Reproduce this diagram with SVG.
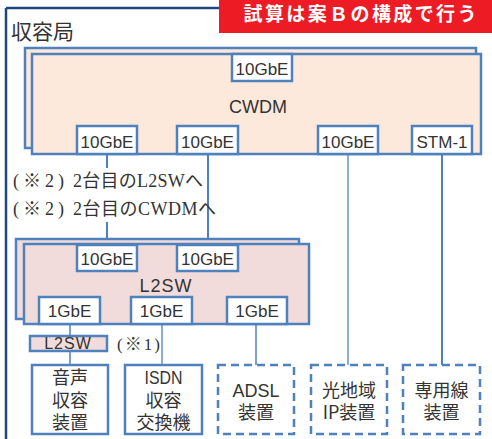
<svg xmlns="http://www.w3.org/2000/svg" width="492" height="439" viewBox="0 0 492 439">
<style>
.frame{fill:none;stroke:#1f497d;stroke-width:2.5}
.cw{fill:#fde9db;stroke:#4f81bd;stroke-width:2.5}
.sw{fill:#f2dcdb;stroke:#4f81bd;stroke-width:2.5}
.port{fill:#ffffff;stroke:#4f81bd;stroke-width:2.5}
.dev{fill:#ffffff;stroke:#4f81bd;stroke-width:2.5}
.dash{fill:#ffffff;stroke:#4f81bd;stroke-width:2.5;stroke-dasharray:8 5}
.ln{stroke:#4f81bd;fill:none}
.t{font-family:"Liberation Sans","Noto Sans CJK JP",sans-serif;fill:#333333;text-anchor:middle}
.j{font-family:"Noto Sans CJK JP",sans-serif;fill:#333333;text-anchor:middle;font-size:18px}
.s{font-family:"Liberation Serif","Noto Sans CJK JP",serif;fill:#333333;font-size:18px}
</style>
<g id="frame">
<line class="frame" x1="6" y1="8" x2="222" y2="8"/>
<line class="frame" x1="6" y1="8" x2="6" y2="439"/>
<text x="11" y="39" style="font-family:'Noto Sans CJK JP',sans-serif;font-size:21px;fill:#333333">収容局</text>
</g>
<g id="banner">
<rect x="219" y="0" width="273" height="33" fill="#ed1c24"/>
<text x="360" y="21" textLength="233" lengthAdjust="spacing" style="font-family:'Noto Sans CJK JP',sans-serif;font-size:19px;font-weight:bold;fill:#ffffff;text-anchor:middle">試算は案Ｂの構成で行う</text>
</g>
<g id="connectors">
<line class="ln" stroke-width="2" x1="107" y1="154" x2="107" y2="168"/>
<line class="ln" stroke-width="2" x1="107" y1="222" x2="107" y2="245"/>
<line class="ln" stroke-width="2" x1="208" y1="154" x2="208" y2="245"/>
<line class="ln" stroke-width="1.3" x1="348" y1="154" x2="348" y2="365"/>
<line class="ln" stroke-width="2" x1="442" y1="154" x2="442" y2="365"/>
<line class="ln" stroke-width="1.5" x1="70" y1="324" x2="70" y2="336"/>
<line class="ln" stroke-width="1.5" x1="70" y1="351" x2="70" y2="365"/>
<line class="ln" stroke-width="1.3" x1="162" y1="324" x2="162" y2="365"/>
<line class="ln" stroke-width="1.5" x1="256" y1="324" x2="256" y2="365"/>
</g>
<g id="cwdm">
<rect class="cw" x="25" y="48" width="451" height="100"/>
<rect class="cw" x="32" y="54" width="449" height="100"/>
<text class="t" x="258" y="113" style="font-size:18px">CWDM</text>
</g>
<g id="cwdm-top-port">
<rect class="port" x="232" y="54" width="60" height="27"/>
<text class="t" x="262" y="75" style="font-size:17px">10GbE</text>
</g>
<g id="cwdm-port1">
<rect class="port" x="77" y="126" width="60" height="28"/>
<text class="t" x="107" y="148" style="font-size:17px">10GbE</text>
</g>
<g id="cwdm-port2">
<rect class="port" x="177" y="126" width="61" height="28"/>
<text class="t" x="207.5" y="148" style="font-size:17px">10GbE</text>
</g>
<g id="cwdm-port3">
<rect class="port" x="318" y="126" width="60" height="28"/>
<text class="t" x="348" y="148" style="font-size:17px">10GbE</text>
</g>
<g id="cwdm-stm1">
<rect class="port" x="412" y="126" width="60" height="28"/>
<text class="t" x="442" y="148" style="font-size:17px">STM-1</text>
</g>
<g id="notes">
<text class="s" y="187"><tspan x="13" textLength="51" lengthAdjust="spacing">(※2)</tspan><tspan x="73" textLength="130" lengthAdjust="spacing">2台目のL2SWへ</tspan></text>
<text class="s" y="215"><tspan x="13" textLength="51" lengthAdjust="spacing">(※2)</tspan><tspan x="73" textLength="143" lengthAdjust="spacing">2台目のCWDMへ</tspan></text>
</g>
<g id="l2sw">
<rect class="sw" x="16" y="239" width="283" height="80"/>
<rect class="sw" x="24" y="244" width="285" height="80"/>
<text class="t" x="166" y="292" style="font-size:18px;letter-spacing:1px">L2SW</text>
</g>
<g id="l2sw-port1">
<rect class="port" x="77" y="245" width="60" height="26"/>
<text class="t" x="107" y="265" style="font-size:17px">10GbE</text>
</g>
<g id="l2sw-port2">
<rect class="port" x="177" y="245" width="61" height="26"/>
<text class="t" x="207.5" y="265" style="font-size:17px">10GbE</text>
</g>
<g id="l2sw-1g1">
<rect class="port" x="39" y="297" width="61" height="27"/>
<text class="t" x="69.5" y="317" style="font-size:17px">1GbE</text>
</g>
<g id="l2sw-1g2">
<rect class="port" x="131" y="297" width="61" height="27"/>
<text class="t" x="161.5" y="317" style="font-size:17px">1GbE</text>
</g>
<g id="l2sw-1g3">
<rect class="port" x="227" y="297" width="60" height="27"/>
<text class="t" x="257" y="317" style="font-size:17px">1GbE</text>
</g>
<g id="small-l2sw">
<rect class="sw" x="30" y="336" width="77" height="15"/>
<text class="t" x="68" y="349" style="font-size:16px;letter-spacing:1px">L2SW</text>
<text class="s" x="117" y="350" style="font-size:17px" textLength="43" lengthAdjust="spacing">(※1)</text>
</g>
<g id="voice">
<rect class="dev" x="32" y="365" width="76" height="69"/>
<text class="j" x="70" y="384">音声</text>
<text class="j" x="70" y="407">収容</text>
<text class="j" x="70" y="429">装置</text>
</g>
<g id="isdn">
<rect class="dev" x="125" y="365" width="77" height="69"/>
<text class="t" x="163.5" y="384" style="font-size:19px" textLength="38" lengthAdjust="spacingAndGlyphs">ISDN</text>
<text class="j" x="163.5" y="407">収容</text>
<text class="j" x="163.5" y="429">交換機</text>
</g>
<g id="adsl">
<rect class="dash" x="218" y="365" width="76" height="69"/>
<text class="t" x="256" y="397" style="font-size:18px">ADSL</text>
<text class="j" x="256" y="419">装置</text>
</g>
<g id="optical">
<rect class="dash" x="311" y="365" width="76" height="69"/>
<text class="j" x="349" y="397">光地域</text>
<text class="j" x="349" y="419">IP装置</text>
</g>
<g id="leased">
<rect class="dash" x="403" y="365" width="77" height="69"/>
<text class="j" x="441.5" y="397">専用線</text>
<text class="j" x="441.5" y="419">装置</text>
</g>
</svg>
